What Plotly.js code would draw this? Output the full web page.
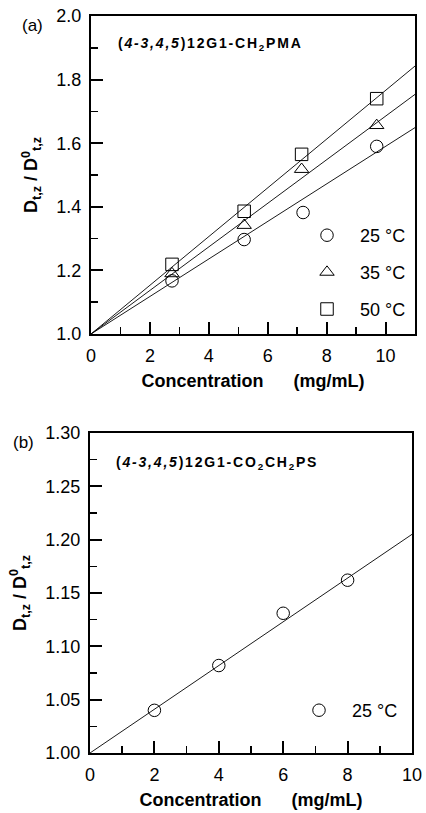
<!DOCTYPE html>
<html>
<head>
<meta charset="utf-8">
<script src="https://cdn.plot.ly/plotly-3.0.1.min.js"></script>
<style>html,body{margin:0;padding:0;background:#fff;}#chart{width:426px;height:813px;}</style>
</head>
<body>
<div id="chart"></div>
<script>
// ---- Data ----
// Panel (a): (4-3,4,5)12G1-CH2PMA
const concA25 = [2.75, 5.2, 7.2, 9.7];
const concA35 = [2.75, 5.2, 7.15, 9.7];
const concA50 = [2.75, 5.2, 7.15, 9.7];
const ratioA25 = [1.167, 1.297, 1.382, 1.59];
const ratioA35 = [1.19, 1.342, 1.518, 1.656];
const ratioA50 = [1.219, 1.386, 1.565, 1.74];
const slopesA = [0.059, 0.0685, 0.0766];   // fitted lines through (0,1) for 25, 35, 50 °C
const labelsA = ["25 °C", "35 °C", "50 °C"];
// Panel (b): (4-3,4,5)12G1-CO2CH2PS
const concB25 = [2, 4, 6, 8];
const ratioB25 = [1.04, 1.082, 1.131, 1.162];
const slopeB = 0.0205;
const labelsB = ["25 °C"];
const xRangeA = [0, 11];
const xRangeB = [0, 10];

// ---- Helpers ----
const W = 426, H = 813;
const px = x => x / W;
const py = y => 1 - y / H;
const FONT = "Arial, 'Liberation Sans', Helvetica, sans-serif";
const black = "#000";

function fitLine(slope, xr, xa, ya) {
  const xs = [xr[0], xr[1]];
  return {x: xs, y: xs.map(x => 1 + slope * x), mode: "lines", type: "scatter",
    line: {color: black, width: 0.9}, xaxis: xa, yaxis: ya, showlegend: false, hoverinfo: "skip"};
}
function pts(xs, ys, sym, name, xa, ya, leg, grp) {
  return {x: xs, y: ys, mode: "markers", type: "scatter", name: name,
    marker: {symbol: sym, size: 12.5, color: black, line: {color: black, width: 1}},
    xaxis: xa, yaxis: ya, legend: leg, legendgroup: grp, showlegend: true};
}

const syms = ["circle-open", "triangle-up-open", "square-open"];
const traces = [
  fitLine(slopesA[0], xRangeA, "x", "y"),
  fitLine(slopesA[1], xRangeA, "x", "y"),
  fitLine(slopesA[2], xRangeA, "x", "y"),
  pts(concA25, ratioA25, syms[0], labelsA[0], "x", "y", "legend", "a1"),
  pts(concA35, ratioA35, syms[1], labelsA[1], "x", "y", "legend", "a2"),
  pts(concA50, ratioA50, syms[2], labelsA[2], "x", "y", "legend", "a3"),
  fitLine(slopeB, xRangeB, "x2", "y2"),
  pts(concB25, ratioB25, syms[0], labelsB[0], "x2", "y2", "legend2", "b1")
];

const tickFont = {family: FONT, size: 18, color: black};
const titleFont = {family: FONT, size: 18, color: black};
function xax(range, domain, anchor) {
  return {range: range, domain: domain, anchor: anchor, dtick: 2, tick0: 0,
    ticks: "inside", ticklen: 12, tickwidth: 2, tickcolor: black,
    minor: {dtick: 1, ticks: "inside", ticklen: 7, tickwidth: 1.5, tickcolor: black},
    showline: true, linewidth: 2, linecolor: black, mirror: true,
    showgrid: false, zeroline: false, tickfont: tickFont, automargin: false,
    ticklabelstandoff: 4,
    title: {text: "<b>Concentration      (mg/mL)</b>", font: titleFont, standoff: 10}};
}
function yax(range, domain, anchor, dtick, fmt, minorDt) {
  return {range: range, domain: domain, anchor: anchor, dtick: dtick, tick0: 1,
    tickformat: fmt, ticks: "inside", ticklen: 12, tickwidth: 2, tickcolor: black,
    minor: {dtick: minorDt, ticks: "inside", ticklen: 7, tickwidth: 1.5, tickcolor: black},
    showline: true, linewidth: 2, linecolor: black, mirror: true,
    showgrid: false, zeroline: false, tickfont: tickFont, automargin: false,
    ticklabelstandoff: 4,
    title: {text: "<b>D<sub>t,z</sub> / D<sup>0</sup><sub>t,z</sub></b>", font: {family: FONT, size: 18, color: black}, standoff: 14}};
}

const legendFont = {family: FONT, size: 18, color: black};
const layout = {
  width: W, height: H,
  margin: {l: 0, r: 0, t: 0, b: 0},
  paper_bgcolor: "#fff", plot_bgcolor: "#fff",
  showlegend: true,
  xaxis: xax(xRangeA, [px(91), px(415)], "y"),
  yaxis: yax([1, 2], [py(334), py(16)], "x", 0.2, ".1f", 0.1),
  xaxis2: xax(xRangeB, [px(90), px(412)], "y2"),
  yaxis2: yax([1, 1.3], [py(753), py(433)], "x2", 0.05, ".2f", 0.025),
  legend: {x: px(294), y: py(217), xanchor: "left", yanchor: "top", font: legendFont,
    bgcolor: "rgba(0,0,0,0)", borderwidth: 0, itemwidth: 56, tracegroupgap: 10.5, traceorder: "grouped"},
  legend2: {x: px(286), y: py(692), xanchor: "left", yanchor: "top", font: legendFont,
    bgcolor: "rgba(0,0,0,0)", borderwidth: 0, itemwidth: 56},
  annotations: [
    {text: "(a)", xref: "paper", yref: "paper", x: px(20), y: py(25), xanchor: "left", yanchor: "middle",
      showarrow: false, font: {family: FONT, size: 17, color: black}},
    {text: "(b)", xref: "paper", yref: "paper", x: px(11), y: py(443), xanchor: "left", yanchor: "middle",
      showarrow: false, font: {family: FONT, size: 17, color: black}},
    {text: "<b>(<i>4-3,4,5</i>)12G1-CH<sub>2</sub>PMA</b>", xref: "paper", yref: "paper",
      x: px(116), y: py(44), xanchor: "left", yanchor: "middle", showarrow: false,
      font: {family: FONT, size: 14, color: black}},
    {text: "<b>(<i>4-3,4,5</i>)12G1-CO<sub>2</sub>CH<sub>2</sub>PS</b>", xref: "paper", yref: "paper",
      x: px(114), y: py(463), xanchor: "left", yanchor: "middle", showarrow: false,
      font: {family: FONT, size: 14, color: black}}
  ]
};

Plotly.newPlot("chart", traces, layout, {staticPlot: true, displayModeBar: false}).then(gd => {
  // widen the compound-name labels as in the reference, keeping their left edge fixed
  gd.querySelectorAll(".annotation-text").forEach(t => {
    if (t.textContent.indexOf("12G1") >= 0) {
      const b0 = t.getBBox();
      t.style.letterSpacing = "1.8px";
      const b1 = t.getBBox();
      const prev = t.getAttribute("transform") || "";
      t.setAttribute("transform", (prev + " translate(" + (b0.x - b1.x) + ",0)").trim());
    }
  });
});
</script>
</body>
</html>
